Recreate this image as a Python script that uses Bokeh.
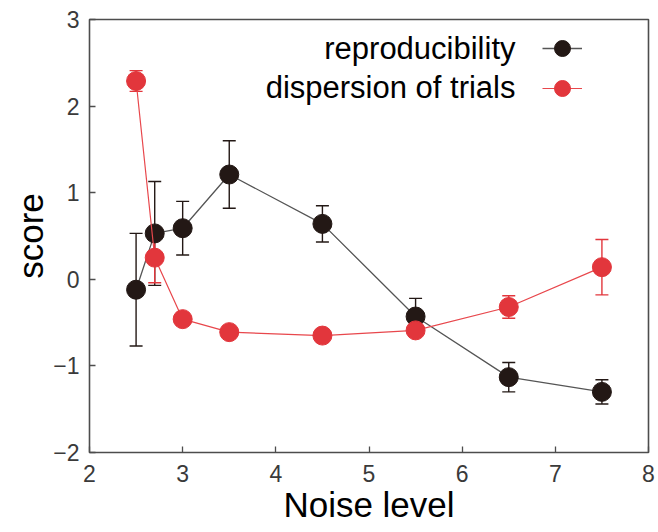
import numpy as np
from bokeh.plotting import figure
from bokeh.models import (ColumnDataSource, Whisker, TeeHead, Label, Legend, LegendItem,
                          Range1d, FixedTicker)
from bokeh.embed import file_html
from bokeh.resources import INLINE

# ---- data ----
noise = [2.5, 2.7, 3.0, 3.5, 4.5, 5.5, 6.5, 7.5]
reproducibility = [-0.12, 0.53, 0.59, 1.21, 0.64, -0.43, -1.13, -1.30]
reproducibility_err = [0.65, 0.60, 0.31, 0.39, 0.21, 0.21, 0.17, 0.14]
dispersion = [2.29, 0.25, -0.46, -0.61, -0.65, -0.59, -0.32, 0.14]
dispersion_err = [0.12, 0.29, 0.05, 0.04, 0.06, 0.05, 0.13, 0.32]
x_ticks = [2, 3, 4, 5, 6, 7, 8]
y_ticks = [-2, -1, 0, 1, 2, 3]
series_names = ["reproducibility", "dispersion of trials"]

BLACK = "#231815"
RED = "#e2363c"
AXIS = "#4d4d4d"
FONT = "Liberation Sans"

p = figure(width=658, height=532, output_backend="svg", toolbar_location=None,
           x_range=Range1d(2, 8), y_range=Range1d(-2, 3),
           min_border_left=89, min_border_right=10, min_border_top=19, min_border_bottom=80)
p.grid.visible = False
p.outline_line_color = AXIS
p.outline_line_width = 1.6
p.background_fill_color = "white"
p.border_fill_color = "white"

for ax in (p.xaxis[0], p.yaxis[0]):
    ax.axis_line_color = None
    ax.major_tick_line_color = AXIS
    ax.major_tick_line_width = 1.3
    ax.minor_tick_line_color = None
    ax.major_tick_out = 0
    ax.major_tick_in = 6
    ax.major_label_text_font = FONT
    ax.major_label_text_font_size = "23px"
    ax.major_label_text_color = "#3a3a3a"
    ax.axis_label_text_font = FONT
    ax.axis_label_text_font_size = "35px"
    ax.axis_label_text_font_style = "normal"
    ax.axis_label_text_color = "black"

p.xaxis[0].ticker = FixedTicker(ticks=x_ticks)
p.yaxis[0].ticker = FixedTicker(ticks=y_ticks)
p.xaxis[0].major_label_standoff = 12
p.yaxis[0].major_label_standoff = 10
p.yaxis[0].major_label_overrides = {t: (str(t).replace("-", "\u2212")) for t in y_ticks}
p.xaxis[0].axis_label = "Noise level"
p.xaxis[0].axis_label_standoff = 0
p.yaxis[0].axis_label = "score"
p.yaxis[0].axis_label_standoff = 0

def errsrc(xs, ys, es):
    ys = np.array(ys); es = np.array(es)
    return ColumnDataSource(dict(x=xs, y=ys, upper=ys + es, lower=ys - es))

src_r = errsrc(noise, reproducibility, reproducibility_err)
src_d = errsrc(noise, dispersion, dispersion_err)

# reproducibility (black)
line_r = p.line("x", "y", source=src_r, line_color="#555555", line_width=1.3)
p.add_layout(Whisker(source=src_r, base="x", upper="upper", lower="lower", dimension="height",
                     line_color=BLACK, line_width=1.4,
                     upper_head=TeeHead(size=13, line_color=BLACK, line_width=1.4),
                     lower_head=TeeHead(size=13, line_color=BLACK, line_width=1.4)))
sc_r = p.scatter("x", "y", source=src_r, size=19, fill_color=BLACK, line_color=BLACK)

# dispersion (red)
line_d = p.line("x", "y", source=src_d, line_color="#e8474c", line_width=1.2)
p.add_layout(Whisker(source=src_d, base="x", upper="upper", lower="lower", dimension="height",
                     line_color=RED, line_width=1.4,
                     upper_head=TeeHead(size=13, line_color=RED, line_width=1.4),
                     lower_head=TeeHead(size=13, line_color=RED, line_width=1.4)))
sc_d = p.scatter("x", "y", source=src_d, size=19, fill_color=RED, line_color=RED)

# legend glyphs (labels drawn separately, to the left of the glyphs)
legend = Legend(items=[LegendItem(label=" ", renderers=[line_r, sc_r]),
                       LegendItem(label=" ", renderers=[line_d, sc_d])],
                location=(453, 344), glyph_width=40, glyph_height=40, spacing=0,
                label_width=0, label_standoff=0, label_height=40, padding=0, margin=0,
                background_fill_alpha=0, border_line_alpha=0)
p.add_layout(legend, "center")

for name, yy in zip(series_names, [404, 365]):
    p.add_layout(Label(x=426, y=yy, x_units="screen", y_units="screen", text=name,
                       text_align="right", text_baseline="middle", text_font=FONT,
                       text_font_size="31px", text_color="black"))

open("out.html", "w").write(file_html(p, INLINE))
